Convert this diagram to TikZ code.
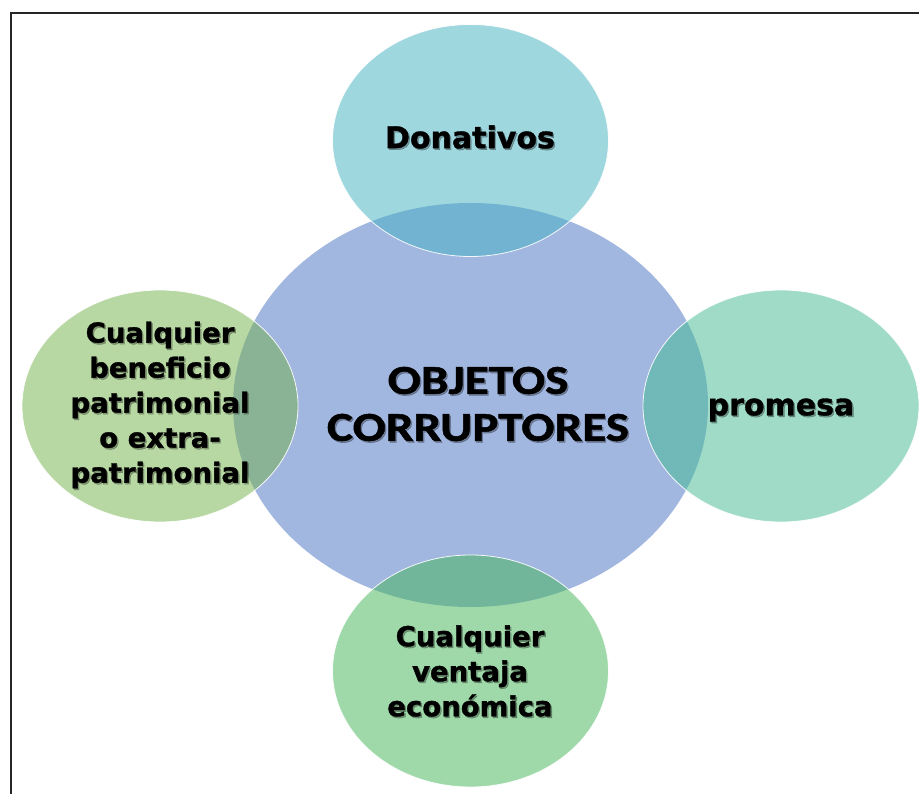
\documentclass[tikz,border=0pt]{standalone}
\usepackage{fontspec}
\newfontfamily\satfont{DejaVu Sans}[FakeBold=1.2]
\newfontfamily\cenfont{Carlito}[FakeStretch=1.2,FakeBold=1.2]
\usetikzlibrary{shapes.geometric}
\definecolor{bigc}{RGB}{162,183,224}
\definecolor{topc}{RGB}{65,177,193}
\definecolor{rightc}{RGB}{65,185,145}
\definecolor{leftc}{RGB}{113,177,73}
\definecolor{botc}{RGB}{65,181,85}
\begin{document}
\begin{tikzpicture}[x=1pt,y=-1pt,
  bigell/.style={ellipse, minimum width=475pt, minimum height=404pt, inner sep=0pt, fill=bigc},
  satell/.style={ellipse, minimum width=276pt, minimum height=232pt, inner sep=0pt,
    fill opacity=0.5, draw=white, draw opacity=0.9, line width=0.8pt},
  lbl/.style={align=center, text=black, inner sep=0pt},
  shd/.style={align=center, text=black, text opacity=0.3, inner sep=0pt, xshift=1.4pt, yshift=-1.6pt},
  bigtxt/.style={font=\cenfont\bfseries\fontsize{41}{47}\selectfont},
  smtxt/.style={font=\satfont\bfseries\fontsize{27.5}{35}\selectfont},
  mdtxt/.style={font=\satfont\bfseries\fontsize{30}{36}\selectfont}]
\useasboundingbox (0,0) rectangle (919,794);
\clip (0,0) rectangle (919,794);
\fill[white] (0,0) rectangle (919,794);
\draw[line width=2pt, black!85] (10.5,13.5) rectangle (940,820);
% ellipses
\node[bigell] (core) at (470.5,405) {};
\node[satell, fill=topc] (top) at (470.5,140.5) {};
\node[satell, fill=rightc] (right) at (781,406) {};
\node[satell, fill=leftc] (left) at (160,406) {};
\node[satell, fill=botc] (bot) at (470.5,671) {};
% shadows of the texts
\node[shd, bigtxt] (coreS) at (478,404) {OBJETOS\\CORRUPTORES};
\node[shd, mdtxt] (topS) at (470,137) {Donativos};
\node[shd, mdtxt] (rightS) at (781,410) {promesa};
\node[shd, smtxt] (leftS) at (160,405) {Cualquier\\beneficio\\patrimonial\\o extra-\\patrimonial};
\node[shd, smtxt] (botS) at (470,671) {Cualquier\\ventaja\\económica};
% texts
\node[lbl, bigtxt] (coreT) at (478,404) {OBJETOS\\CORRUPTORES};
\node[lbl, mdtxt] (topT) at (470,137) {Donativos};
\node[lbl, mdtxt] (rightT) at (781,410) {promesa};
\node[lbl, smtxt] (leftT) at (160,405) {Cualquier\\beneficio\\patrimonial\\o extra-\\patrimonial};
\node[lbl, smtxt] (botT) at (470,671) {Cualquier\\ventaja\\económica};
\end{tikzpicture}
\end{document}
